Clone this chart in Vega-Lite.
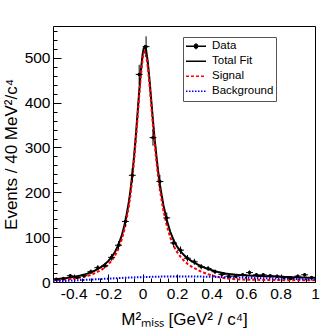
{
  "$schema": "https://vega.github.io/schema/vega-lite/v6.json",
  "width": 262,
  "height": 256,
  "autosize": {"type": "none"},
  "padding": {"left": 53, "top": 26, "right": 17, "bottom": 50},
  "background": "white",
  "config": {
    "view": {"stroke": "black", "strokeWidth": 1},
    "font": "Liberation Sans",
    "axis": {"domain": false, "grid": false, "labelFont": "Liberation Sans", "labelFontSize": 15.5, "labelColor": "black", "tickColor": "black", "tickWidth": 1, "titleFont": "Liberation Sans", "titleFontSize": 17, "titleFontWeight": "normal", "titleColor": "black", "labelOverlap": false, "labelFlush": false}
  },
  "resolve": {"axis": {"x": "independent", "y": "independent"}},
  "datasets": {
    "curves": [
      {"x": -0.52, "Total Fit": 5.5, "Signal": 4.0, "Background": 1.5},
      {"x": -0.50, "Total Fit": 6.2, "Signal": 4.4, "Background": 1.8},
      {"x": -0.48, "Total Fit": 7.0, "Signal": 4.8, "Background": 2.2},
      {"x": -0.46, "Total Fit": 7.8, "Signal": 5.3, "Background": 2.5},
      {"x": -0.44, "Total Fit": 8.8, "Signal": 6.0, "Background": 2.8},
      {"x": -0.42, "Total Fit": 10.0, "Signal": 6.8, "Background": 3.2},
      {"x": -0.40, "Total Fit": 11.3, "Signal": 7.8, "Background": 3.5},
      {"x": -0.38, "Total Fit": 12.8, "Signal": 8.9, "Background": 3.9},
      {"x": -0.36, "Total Fit": 14.5, "Signal": 10.2, "Background": 4.3},
      {"x": -0.34, "Total Fit": 16.5, "Signal": 11.8, "Background": 4.7},
      {"x": -0.32, "Total Fit": 18.8, "Signal": 13.7, "Background": 5.1},
      {"x": -0.30, "Total Fit": 21.5, "Signal": 16.0, "Background": 5.5},
      {"x": -0.28, "Total Fit": 25.0, "Signal": 19.1, "Background": 5.9},
      {"x": -0.26, "Total Fit": 29.2, "Signal": 22.9, "Background": 6.3},
      {"x": -0.24, "Total Fit": 33.7, "Signal": 27.0, "Background": 6.7},
      {"x": -0.22, "Total Fit": 39.3, "Signal": 32.2, "Background": 7.1},
      {"x": -0.20, "Total Fit": 46.4, "Signal": 38.9, "Background": 7.5},
      {"x": -0.18, "Total Fit": 55.5, "Signal": 47.6, "Background": 7.9},
      {"x": -0.16, "Total Fit": 67.4, "Signal": 59.1, "Background": 8.3},
      {"x": -0.14, "Total Fit": 83.3, "Signal": 74.6, "Background": 8.7},
      {"x": -0.12, "Total Fit": 105.0, "Signal": 95.9, "Background": 9.1},
      {"x": -0.10, "Total Fit": 135.3, "Signal": 125.8, "Background": 9.5},
      {"x": -0.08, "Total Fit": 178.4, "Signal": 168.6, "Background": 9.8},
      {"x": -0.07, "Total Fit": 206.4, "Signal": 196.5, "Background": 9.95},
      {"x": -0.06, "Total Fit": 239.7, "Signal": 229.6, "Background": 10.1},
      {"x": -0.05, "Total Fit": 278.9, "Signal": 268.7, "Background": 10.25},
      {"x": -0.04, "Total Fit": 323.9, "Signal": 313.5, "Background": 10.4},
      {"x": -0.03, "Total Fit": 373.7, "Signal": 363.2, "Background": 10.55},
      {"x": -0.02, "Total Fit": 425.1, "Signal": 414.4, "Background": 10.7},
      {"x": -0.01, "Total Fit": 472.5, "Signal": 461.7, "Background": 10.85},
      {"x": 0.0, "Total Fit": 508.2, "Signal": 497.2, "Background": 11.0},
      {"x": 0.006, "Total Fit": 520.7, "Signal": 509.7, "Background": 11.05},
      {"x": 0.012, "Total Fit": 525.0, "Signal": 513.9, "Background": 11.1},
      {"x": 0.018, "Total Fit": 521.0, "Signal": 509.8, "Background": 11.2},
      {"x": 0.02, "Total Fit": 518.0, "Signal": 506.8, "Background": 11.2},
      {"x": 0.03, "Total Fit": 490.7, "Signal": 479.4, "Background": 11.3},
      {"x": 0.04, "Total Fit": 450.7, "Signal": 439.3, "Background": 11.4},
      {"x": 0.05, "Total Fit": 405.4, "Signal": 393.9, "Background": 11.5},
      {"x": 0.06, "Total Fit": 360.3, "Signal": 348.7, "Background": 11.6},
      {"x": 0.07, "Total Fit": 318.4, "Signal": 306.7, "Background": 11.7},
      {"x": 0.08, "Total Fit": 281.1, "Signal": 269.3, "Background": 11.8},
      {"x": 0.09, "Total Fit": 246.9, "Signal": 235.0, "Background": 11.9},
      {"x": 0.10, "Total Fit": 217.5, "Signal": 205.5, "Background": 12.0},
      {"x": 0.12, "Total Fit": 172.3, "Signal": 160.2, "Background": 12.1},
      {"x": 0.14, "Total Fit": 138.2, "Signal": 126.0, "Background": 12.2},
      {"x": 0.16, "Total Fit": 112.0, "Signal": 99.7, "Background": 12.3},
      {"x": 0.18, "Total Fit": 93.0, "Signal": 80.6, "Background": 12.4},
      {"x": 0.20, "Total Fit": 79.0, "Signal": 66.5, "Background": 12.5},
      {"x": 0.22, "Total Fit": 68.5, "Signal": 56.0, "Background": 12.5},
      {"x": 0.24, "Total Fit": 60.0, "Signal": 47.5, "Background": 12.5},
      {"x": 0.26, "Total Fit": 53.0, "Signal": 40.6, "Background": 12.4},
      {"x": 0.28, "Total Fit": 47.5, "Signal": 35.2, "Background": 12.3},
      {"x": 0.30, "Total Fit": 43.0, "Signal": 30.8, "Background": 12.2},
      {"x": 0.32, "Total Fit": 39.0, "Signal": 26.9, "Background": 12.1},
      {"x": 0.34, "Total Fit": 35.0, "Signal": 23.0, "Background": 12.0},
      {"x": 0.36, "Total Fit": 32.0, "Signal": 20.1, "Background": 11.9},
      {"x": 0.38, "Total Fit": 29.0, "Signal": 17.3, "Background": 11.7},
      {"x": 0.40, "Total Fit": 26.5, "Signal": 15.0, "Background": 11.5},
      {"x": 0.42, "Total Fit": 24.0, "Signal": 12.7, "Background": 11.3},
      {"x": 0.44, "Total Fit": 22.0, "Signal": 10.9, "Background": 11.1},
      {"x": 0.46, "Total Fit": 20.5, "Signal": 9.6, "Background": 10.9},
      {"x": 0.48, "Total Fit": 19.0, "Signal": 8.3, "Background": 10.7},
      {"x": 0.50, "Total Fit": 17.8, "Signal": 7.3, "Background": 10.5},
      {"x": 0.55, "Total Fit": 16.0, "Signal": 6.0, "Background": 10.0},
      {"x": 0.60, "Total Fit": 14.7, "Signal": 5.2, "Background": 9.5},
      {"x": 0.65, "Total Fit": 13.9, "Signal": 4.9, "Background": 9.0},
      {"x": 0.70, "Total Fit": 13.1, "Signal": 4.6, "Background": 8.5},
      {"x": 0.75, "Total Fit": 12.4, "Signal": 4.4, "Background": 8.0},
      {"x": 0.80, "Total Fit": 11.7, "Signal": 4.2, "Background": 7.5},
      {"x": 0.85, "Total Fit": 11.05, "Signal": 4.05, "Background": 7.0},
      {"x": 0.90, "Total Fit": 10.4, "Signal": 3.9, "Background": 6.5},
      {"x": 0.95, "Total Fit": 9.8, "Signal": 3.8, "Background": 6.0},
      {"x": 1.00, "Total Fit": 9.2, "Signal": 3.7, "Background": 5.5}
    ],
    "points": [
      {"x": -0.50, "lo": -0.52, "hi": -0.48, "n": 6, "elo": 3.6, "ehi": 8.4},
      {"x": -0.46, "lo": -0.48, "hi": -0.44, "n": 8, "elo": 5.2, "ehi": 10.8},
      {"x": -0.42, "lo": -0.44, "hi": -0.40, "n": 14, "elo": 10.3, "ehi": 17.7},
      {"x": -0.38, "lo": -0.40, "hi": -0.36, "n": 10, "elo": 6.8, "ehi": 13.2},
      {"x": -0.34, "lo": -0.36, "hi": -0.32, "n": 14, "elo": 10.3, "ehi": 17.7},
      {"x": -0.30, "lo": -0.32, "hi": -0.28, "n": 23, "elo": 18.2, "ehi": 27.8},
      {"x": -0.26, "lo": -0.28, "hi": -0.24, "n": 32, "elo": 26.3, "ehi": 37.7},
      {"x": -0.22, "lo": -0.24, "hi": -0.20, "n": 36, "elo": 30.0, "ehi": 42.0},
      {"x": -0.18, "lo": -0.20, "hi": -0.16, "n": 55, "elo": 47.6, "ehi": 62.4},
      {"x": -0.14, "lo": -0.16, "hi": -0.12, "n": 82, "elo": 72.9, "ehi": 91.1},
      {"x": -0.10, "lo": -0.12, "hi": -0.08, "n": 135, "elo": 123.4, "ehi": 146.6},
      {"x": -0.06, "lo": -0.08, "hi": -0.04, "n": 238, "elo": 222.6, "ehi": 253.4},
      {"x": -0.02, "lo": -0.04, "hi": 0.0, "n": 463, "elo": 441.5, "ehi": 484.5},
      {"x": 0.02, "lo": 0.0, "hi": 0.04, "n": 525, "elo": 502.1, "ehi": 547.9},
      {"x": 0.06, "lo": 0.04, "hi": 0.08, "n": 322, "elo": 304.1, "ehi": 339.9},
      {"x": 0.10, "lo": 0.08, "hi": 0.12, "n": 224, "elo": 209.0, "ehi": 239.0},
      {"x": 0.14, "lo": 0.12, "hi": 0.16, "n": 143, "elo": 131.0, "ehi": 155.0},
      {"x": 0.18, "lo": 0.16, "hi": 0.20, "n": 87, "elo": 77.7, "ehi": 96.3},
      {"x": 0.22, "lo": 0.20, "hi": 0.24, "n": 71, "elo": 62.6, "ehi": 79.4},
      {"x": 0.26, "lo": 0.24, "hi": 0.28, "n": 53, "elo": 45.7, "ehi": 60.3},
      {"x": 0.30, "lo": 0.28, "hi": 0.32, "n": 45, "elo": 38.3, "ehi": 51.7},
      {"x": 0.34, "lo": 0.32, "hi": 0.36, "n": 34, "elo": 28.2, "ehi": 39.8},
      {"x": 0.38, "lo": 0.36, "hi": 0.40, "n": 30, "elo": 24.5, "ehi": 35.5},
      {"x": 0.42, "lo": 0.40, "hi": 0.44, "n": 23, "elo": 18.2, "ehi": 27.8},
      {"x": 0.46, "lo": 0.44, "hi": 0.48, "n": 17, "elo": 12.9, "ehi": 21.1},
      {"x": 0.50, "lo": 0.48, "hi": 0.52, "n": 13, "elo": 9.4, "ehi": 16.6},
      {"x": 0.54, "lo": 0.52, "hi": 0.56, "n": 13, "elo": 9.4, "ehi": 16.6},
      {"x": 0.58, "lo": 0.56, "hi": 0.60, "n": 16, "elo": 12.0, "ehi": 20.0},
      {"x": 0.62, "lo": 0.60, "hi": 0.64, "n": 21, "elo": 16.4, "ehi": 25.6},
      {"x": 0.66, "lo": 0.64, "hi": 0.68, "n": 16, "elo": 12.0, "ehi": 20.0},
      {"x": 0.70, "lo": 0.68, "hi": 0.72, "n": 16, "elo": 12.0, "ehi": 20.0},
      {"x": 0.74, "lo": 0.72, "hi": 0.76, "n": 14, "elo": 10.3, "ehi": 17.7},
      {"x": 0.78, "lo": 0.76, "hi": 0.80, "n": 13, "elo": 9.4, "ehi": 16.6},
      {"x": 0.82, "lo": 0.80, "hi": 0.84, "n": 10, "elo": 6.8, "ehi": 13.2},
      {"x": 0.86, "lo": 0.84, "hi": 0.88, "n": 8, "elo": 5.2, "ehi": 10.8},
      {"x": 0.90, "lo": 0.88, "hi": 0.92, "n": 13, "elo": 9.4, "ehi": 16.6},
      {"x": 0.94, "lo": 0.92, "hi": 0.96, "n": 16, "elo": 12.0, "ehi": 20.0},
      {"x": 0.98, "lo": 0.96, "hi": 1.00, "n": 10, "elo": 6.8, "ehi": 13.2}
    ]
  },
  "layer": [
    {
      "data": {"name": "curves"},
      "transform": [{"fold": ["Total Fit", "Signal", "Background"], "as": ["series", "y"]}],
      "mark": {"type": "line", "strokeWidth": 2, "clip": true},
      "encoding": {
        "x": {
          "field": "x", "type": "quantitative",
          "scale": {"domain": [-0.52, 1], "nice": false, "zero": false},
          "axis": {
            "orient": "bottom",
            "values": [-0.4, -0.2, 0, 0.2, 0.4, 0.6, 0.8, 1.0],
            "labelExpr": "datum.value == 0 ? '0' : datum.value == 1 ? '1' : (datum.value < 0 ? '-' : '') + format(abs(datum.value), '.1f')",
            "ticks": false,
            "labelPadding": 4,
            "title": "M²ₘᵢₛₛ [GeV² / c⁴]",
            "titlePadding": 10
          }
        },
        "y": {
          "field": "y", "type": "quantitative",
          "scale": {"domain": [0, 571], "nice": false},
          "axis": {
            "orient": "left",
            "values": [0, 100, 200, 300, 400, 500],
            "ticks": false,
            "labelPadding": 3,
            "title": "Events / 40 MeV²/c⁴",
            "titlePadding": 4
          }
        },
        "color": {
          "field": "series", "type": "nominal",
          "scale": {"domain": ["Data", "Total Fit", "Signal", "Background"], "range": ["black", "black", "#ff0000", "#0000ff"]},
          "legend": {
            "orient": "none", "legendX": 130, "legendY": 11, "title": null,
            "labelFont": "Liberation Sans", "labelFontSize": 11.5, "labelColor": "black",
            "symbolType": "stroke", "symbolSize": 400, "symbolStrokeWidth": 1.5,
            "strokeColor": "#555555", "fillColor": "white", "padding": 2,
            "rowPadding": 0, "clipHeight": 14.6, "labelOffset": 5,
            "labelExpr": "datum.label + '\u00a0\u00a0\u00a0\u00a0\u00a0\u00a0'",
            "encode": {
              "symbols": {
                "update": {
                  "shape": {"signal": "datum.value === 'Data' ? 'M-1,0H1M0,-0.3V0.3M-0.13,-0.13H0.13V0.13H-0.13Z' : 'stroke'"},
                  "fill": {"signal": "datum.value === 'Data' ? 'black' : 'transparent'"}
                }
              }
            }
          }
        },
        "strokeDash": {
          "field": "series", "type": "nominal",
          "scale": {"domain": ["Data", "Total Fit", "Signal", "Background"], "range": [[1, 0], [1, 0], [3, 2], [1.5, 1.5]]}
        }
      }
    },
    {
      "data": {"name": "points"},
      "mark": {"type": "rule", "color": "black", "strokeWidth": 1},
      "encoding": {
        "x": {
          "field": "x", "type": "quantitative",
          "axis": {"orient": "top", "offset": -256, "values": [-0.4, -0.2, 0, 0.2, 0.4, 0.6, 0.8, 1.0], "tickSize": 8, "labels": false, "title": null}
        },
        "y": {
          "field": "elo", "type": "quantitative",
          "axis": {"orient": "right", "offset": -262, "values": [0, 100, 200, 300, 400, 500], "tickSize": 8, "labels": false, "title": null}
        },
        "y2": {"field": "ehi"}
      }
    },
    {
      "data": {"name": "points"},
      "mark": {"type": "rule", "color": "black", "strokeWidth": 1},
      "encoding": {
        "x": {
          "field": "lo", "type": "quantitative",
          "axis": {"orient": "top", "offset": -256, "values": [-0.5, -0.45, -0.35, -0.3, -0.25, -0.15, -0.1, -0.05, 0.05, 0.1, 0.15, 0.25, 0.3, 0.35, 0.45, 0.5, 0.55, 0.65, 0.7, 0.75, 0.85, 0.9, 0.95], "tickSize": 4, "labels": false, "title": null}
        },
        "x2": {"field": "hi"},
        "y": {
          "field": "n", "type": "quantitative",
          "axis": {"orient": "right", "offset": -262, "values": [20, 40, 60, 80, 120, 140, 160, 180, 220, 240, 260, 280, 320, 340, 360, 380, 420, 440, 460, 480, 520, 540, 560], "tickSize": 4, "labels": false, "title": null}
        }
      }
    },
    {
      "data": {"name": "points"},
      "mark": {"type": "point", "filled": true, "color": "black", "size": 12, "opacity": 1},
      "encoding": {
        "x": {"field": "x", "type": "quantitative", "axis": null},
        "y": {"field": "n", "type": "quantitative", "axis": null}
      }
    }
  ]
}
